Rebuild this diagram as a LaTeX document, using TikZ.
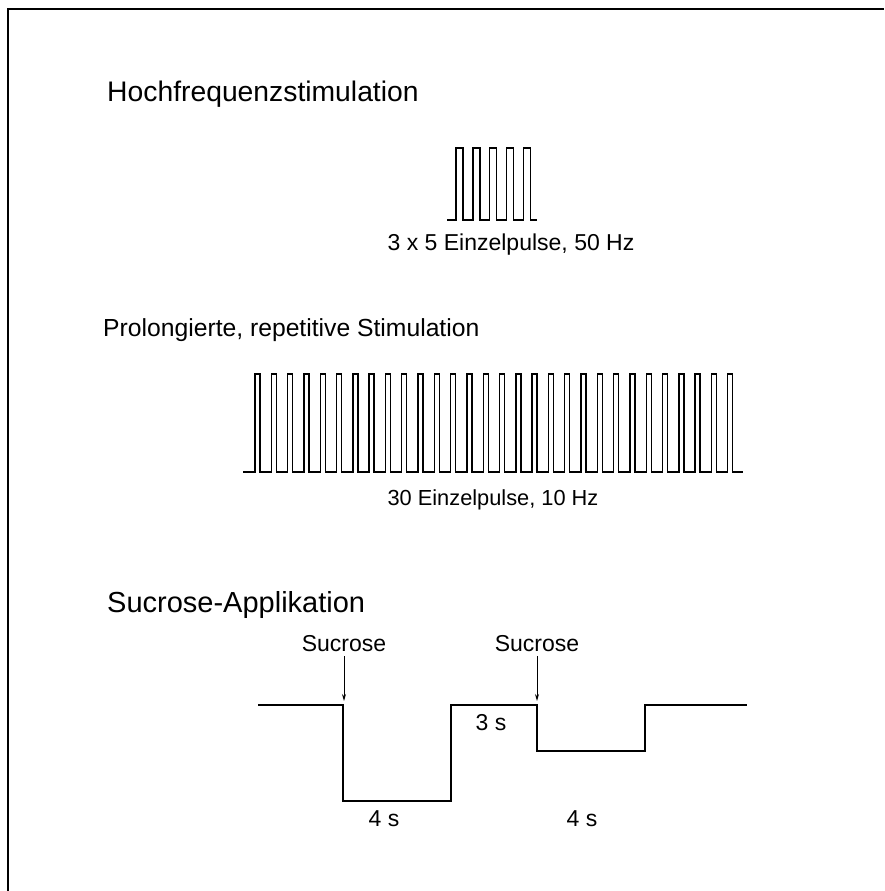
\documentclass[tikz,border=0pt]{standalone}
\usepackage{fontspec}
\setmainfont{Liberation Sans}
\usetikzlibrary{arrows.meta}
\begin{document}
\begin{tikzpicture}[x=1pt,y=-1pt,
  heading/.style={anchor=base west,inner sep=0pt,font=\fontsize{28.3}{32}\selectfont},
  lbl/.style={anchor=base,inner sep=0pt,font=\fontsize{23}{26}\selectfont},
  wave/.style={line width=1.3pt,line join=miter},
  pulse/.style={line width=1.4pt,line join=miter},
  frame/.style={line width=2.2pt},
  marker/.style={line width=0.9pt,-{Stealth[length=7pt,width=4pt]}}]
\useasboundingbox (0,0) rectangle (884,891);

% open frame: left and top edges
\draw[frame] (8,891) -- (8,9) -- (884,9);

% --- high-frequency stimulation ---
\node[heading] (hfs) at (107,101) {Hochfrequenzstimulation};
\draw[pulse] (447,220)
  foreach \i in {0,...,4} { -- ({456+16.8*\i},220) -- ++(0,-72) -- ++(7,0) -- ++(0,72) }
  -- (537,220);
\node[lbl] (hfslbl) at (511,250) {3 x 5 Einzelpulse, 50 Hz};

% --- prolonged repetitive stimulation ---
\node[heading,font=\fontsize{24.7}{28}\selectfont] (prs) at (103,336) {Prolongierte, repetitive Stimulation};
\draw[pulse] (243,472)
  foreach \i in {0,...,29} { -- ({255+16.3*\i},472) -- ++(0,-98) -- ++(5,0) -- ++(0,98) }
  -- (743,472);
\node[lbl,font=\fontsize{21.8}{25}\selectfont] (prslbl) at (493,505) {30 Einzelpulse, 10 Hz};

% --- sucrose application ---
\node[heading,font=\fontsize{29}{32}\selectfont] (sap) at (107,612) {Sucrose-Applikation};
\node[lbl] (suc1) at (344,651) {Sucrose};
\node[lbl] (suc2) at (537,651) {Sucrose};
\coordinate (on1) at (344,701);
\coordinate (on2) at (537,701);
\draw[marker] (suc1.south) ++(0,5) -- (on1);
\draw[marker] (suc2.south) ++(0,5) -- (on2);
\draw[wave] (258,705) -- (343,705) -- (343,801) -- (451,801) -- (451,705)
  -- (537,705) -- (537,751) -- (645,751) -- (645,705) -- (747,705);
\node[lbl] (gap) at (491,730) {3 s};
\node[lbl] (dur1) at (384,826) {4 s};
\node[lbl] (dur2) at (582,826) {4 s};
\end{tikzpicture}
\end{document}
